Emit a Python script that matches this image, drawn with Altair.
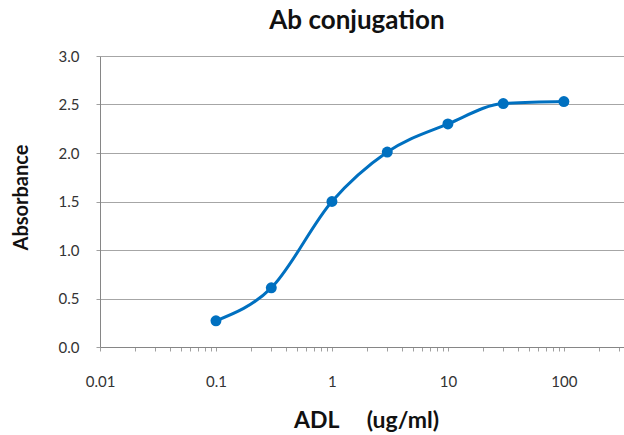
import altair as alt
import pandas as pd

conc = [0.1, 0.3, 1, 3, 10, 30, 100]
absorb = [0.27, 0.61, 1.50, 2.01, 2.30, 2.51, 2.53]

x_ticks = [0.01, 0.02, 0.03, 0.04, 0.05, 0.06, 0.07, 0.08, 0.09,
           0.1, 0.2, 0.3, 0.4, 0.5, 0.6, 0.7, 0.8, 0.9,
           1, 2, 3, 4, 5, 6, 7, 8, 9,
           10, 20, 30, 40, 50, 60, 70, 80, 90,
           100, 200, 300]
x_labels = ["0.01", "0.1", "1", "10", "100"]
y_ticks = [0, 0.5, 1.0, 1.5, 2.0, 2.5, 3.0]

df = pd.DataFrame({"conc": conc, "abs": absorb})

FONT = "Lato"
BLUE = "#0070C0"

x_enc = alt.X(
    "conc:Q",
    scale=alt.Scale(type="log", domain=[0.01, 330], nice=False, zero=False),
    axis=alt.Axis(
        title="ADL\u00a0\u00a0\u00a0\u00a0\u00a0(ug/ml)",
        values=x_ticks,
        labelExpr="indexof(" + str(x_labels) + ", toString(datum.value)) >= 0 ? toString(datum.value) : ''",
        grid=False,
        tickSize=4,
        tickColor="#A0A0A0",
        domainColor="#868686",
        labelPadding=23,
        labelFont=FONT,
        labelFontSize=15,
        labelColor="#333333",
        labelOverlap=False,
        labelFlush=False,
        titleFont=FONT,
        titleFontSize=23,
        titleFontWeight="bold",
        titleColor="#111111",
        titleX=266,
        titleY=80,
        titleBaseline="alphabetic",
        titleAlign="center",
    ),
)

y_enc = alt.Y(
    "abs:Q",
    scale=alt.Scale(domain=[0, 3], nice=False),
    axis=alt.Axis(
        title="Absorbance",
        values=y_ticks,
        format=".1f",
        grid=True,
        gridColor="#A6A6A6",
        gridWidth=1,
        tickSize=4,
        tickColor="#A0A0A0",
        domainColor="#868686",
        labelPadding=17,
        labelFont=FONT,
        labelFontSize=15,
        labelColor="#333333",
        titleFont=FONT,
        titleFontSize=20,
        titleFontWeight="bold",
        titleColor="#111111",
        titleX=-73,
        titleY=141,
        titleBaseline="alphabetic",
        titleAlign="center",
        titleAngle=270,
    ),
)

line = alt.Chart(df).mark_line(
    color=BLUE, strokeWidth=3, interpolate="monotone"
).encode(x=x_enc, y=y_enc)

points = alt.Chart(df).mark_point(
    color=BLUE, filled=True, size=120, opacity=1
).encode(x=x_enc, y=y_enc)

chart = (
    alt.layer(line, points)
    .properties(
        width=524,
        height=291,
        title=alt.TitleParams(
            "Ab conjugation",
            font=FONT,
            fontSize=26,
            fontWeight="bold",
            color="#111111",
            anchor="middle",
            offset=15,
            dx=-5,
        ),
        autosize=alt.AutoSizeParams(type="none"),
        padding={"left": 100, "top": 56, "right": 0, "bottom": 88},
    )
    .configure_view(stroke=None)
)

chart.save("out.html", embed_options={"renderer": "svg", "actions": False})
